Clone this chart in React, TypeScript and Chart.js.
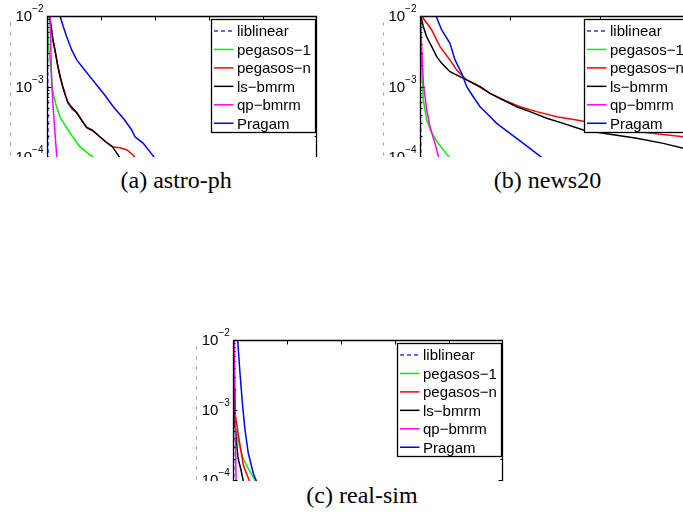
import React, { useEffect, useRef } from "react";
import { Chart, registerables } from "chart.js";

Chart.register(...registerables);

// ---------- shared series info ----------
const seriesNames = ["liblinear", "pegasos−1", "pegasos−n", "ls−bmrm", "qp−bmrm", "Pragam"];
const seriesColors = ["#3434ff", "#00f000", "#ff0000", "#000000", "#ff00ff", "#0000ff"];
const yTickExponents = [-2, -3, -4];

// ---------- (a) astro-ph ----------
const aXTicks = [1, 2, 3, 4];
const aLiblinearX = [0.005, 0.015, 0.025];
const aLiblinearY = [1e-2, 1e-3, 1e-5];
const aPeg1X = [0.006, 0.024, 0.056, 0.111, 0.167, 0.241, 0.333, 0.426, 0.519, 0.611, 0.704, 0.796, 0.981, 1.2];
const aPeg1Y = [1e-2, 4.14e-3, 2.38e-3, 8.1e-4, 5.47e-4, 3.69e-4, 2.84e-4, 2.19e-4, 1.74e-4, 1.39e-4, 1.22e-4, 1.07e-4, 8.5e-5, 6.5e-5];
const aPegNX = [0.043, 0.074, 0.111, 0.157, 0.204, 0.25, 0.296, 0.352, 0.389, 0.463, 0.556, 0.648, 0.741, 0.852, 0.981, 1.111, 1.222, 1.352, 1.481, 1.593, 1.722];
const aPegNY = [1e-2, 7.45e-3, 4.57e-3, 3.08e-3, 1.89e-3, 1.32e-3, 9.84e-4, 7.1e-4, 5.83e-4, 4.8e-4, 4.21e-4, 3.24e-4, 2.58e-4, 2.34e-4, 1.92e-4, 1.58e-4, 1.39e-4, 1.35e-4, 1.26e-4, 1.07e-4, 7.7e-5];
const aLsX = [0.04, 0.07, 0.107, 0.15, 0.2, 0.245, 0.29, 0.345, 0.385, 0.455, 0.545, 0.64, 0.73, 0.84, 0.97, 1.1, 1.21, 1.315, 1.426];
const aLsY = [1e-2, 7.6e-3, 4.7e-3, 3.15e-3, 1.95e-3, 1.36e-3, 1.0e-3, 7.3e-4, 6.0e-4, 5.1e-4, 4.3e-4, 3.35e-4, 2.65e-4, 2.4e-4, 1.97e-4, 1.62e-4, 1.4e-4, 1.07e-4, 7.7e-5];
const aQpX = [0.056, 0.087, 0.117, 0.18, 0.204];
const aQpY = [1e-2, 1.12e-3, 4.65e-4, 1.03e-4, 5.6e-5];
const aPragamX = [0.185, 0.241, 0.302, 0.365, 0.457, 0.55, 0.672, 0.796, 0.92, 1.043, 1.228, 1.413, 1.569, 1.63, 1.783, 1.969, 2.185];
const aPragamY = [2.34e-2, 1e-2, 7.05e-3, 5.08e-3, 3.3e-3, 2.38e-3, 1.81e-3, 1.38e-3, 1.05e-3, 8.0e-4, 5.16e-4, 3.54e-4, 2.42e-4, 1.94e-4, 1.56e-4, 1.03e-4, 5.56e-5];

// ---------- (b) news20 ----------
const bXTicks = [1, 2];
const bLiblinearX = [0.002, 0.006, 0.01];
const bLiblinearY = [1e-2, 1e-3, 1e-5];
const bPeg1X = [0.003, 0.019, 0.037, 0.074, 0.13, 0.203, 0.314, 0.444];
const bPeg1Y = [1e-2, 1.91e-3, 6.44e-4, 3.35e-4, 2.17e-4, 1.56e-4, 1.03e-4, 6.5e-5];
const bPegNX = [0.019, 0.13, 0.222, 0.333, 0.408, 0.519, 0.63, 0.778, 0.926, 1.111, 1.297, 1.519, 1.741, 2.037, 2.408, 2.926, 3.111];
const bPegNY = [1e-2, 6.33e-3, 3.67e-3, 2.38e-3, 1.71e-3, 1.24e-3, 1.05e-3, 8.0e-4, 6.44e-4, 5.16e-4, 4.4e-4, 3.73e-4, 3.35e-4, 2.84e-4, 2.29e-4, 1.94e-4, 1.86e-4];
const bLsX = [0.008, 0.037, 0.074, 0.13, 0.186, 0.241, 0.333, 0.444, 0.556, 0.667, 0.778, 0.926, 1.074, 1.222, 1.408, 1.592, 1.814, 2.037, 2.408, 2.703, 2.926, 3.111];
const bLsY = [1e-2, 7.05e-3, 5.08e-3, 3.67e-3, 2.65e-3, 2.13e-3, 1.62e-3, 1.38e-3, 1.17e-3, 9.93e-4, 8.0e-4, 6.44e-4, 5.16e-4, 4.4e-4, 3.54e-4, 3.0e-4, 2.42e-4, 2.17e-4, 1.84e-4, 1.56e-4, 1.33e-4, 1.26e-4];
const bQpX = [0.003, 0.037, 0.074, 0.111, 0.167, 0.203, 0.233];
const bQpY = [1e-2, 1.11e-3, 4.65e-4, 2.69e-4, 1.56e-4, 1.03e-4, 6.98e-5];
const bPragamX = [0.133, 0.178, 0.241, 0.333, 0.389, 0.463, 0.519, 0.592, 0.667, 0.741, 0.852, 1.0, 1.148, 1.333, 1.467];
const bPragamY = [2.34e-2, 1e-2, 6.33e-3, 4.1e-3, 2.38e-3, 1.54e-3, 9.93e-4, 7.16e-4, 5.16e-4, 4.17e-4, 3.0e-4, 2.17e-4, 1.56e-4, 1.03e-4, 7.7e-5];

// ---------- (c) real-sim ----------
const cXTicks = [1, 2, 3, 4];
const cLiblinearX = [0.004, 0.006, 0.008];
const cLiblinearY = [1e-2, 1e-3, 1e-5];
const cPeg1X = [0.004, 0.031, 0.087, 0.18, 0.272, 0.402, 0.531];
const cPeg1Y = [1e-2, 6.1e-4, 3.73e-4, 2.06e-4, 1.48e-4, 1e-4, 6.7e-5];
const cPegNX = [0.009, 0.022, 0.031, 0.093, 0.185, 0.278, 0.346];
const cPegNY = [1e-2, 1.93e-3, 9.35e-4, 4.4e-4, 1.64e-4, 1.06e-4, 7.7e-5];
const cLsX = [0.006, 0.022, 0.031, 0.087, 0.143, 0.18, 0.217];
const cLsY = [1e-2, 1.39e-3, 6.1e-4, 2.06e-4, 1.39e-4, 1e-4, 7.2e-5];
const cQpX = [0.019, 0.05, 0.059];
const cQpY = [1e-2, 1e-4, 6e-5];
const cPragamX = [0.07, 0.081, 0.124, 0.174, 0.217, 0.278, 0.37, 0.433, 0.5];
const cPragamY = [1.5e-2, 1e-2, 3.34e-3, 1.11e-3, 5.18e-4, 2.41e-4, 1.25e-4, 9.46e-5, 7e-5];

const captions = ["(a) astro-ph", "(b) news20", "(c) real-sim"];

type Series = { xs: number[]; ys: number[] }[];

const zip = (xs: number[], ys: number[]) => xs.map((x, i) => ({ x, y: ys[i] }));

const panels = [
  {
    key: "a",
    box: { left: 0, top: 0, width: 345, height: 157 },
    canvas: { width: 345, height: 240 },
    padding: { left: 47, top: 16, right: 28, bottom: 12.5 },
    xMax: 5,
    xTicks: aXTicks,
    series: [
      { xs: aLiblinearX, ys: aLiblinearY },
      { xs: aPeg1X, ys: aPeg1Y },
      { xs: aPegNX, ys: aPegNY },
      { xs: aLsX, ys: aLsY },
      { xs: aQpX, ys: aQpY },
      { xs: aPragamX, ys: aPragamY },
    ] as Series,
  },
  {
    key: "b",
    box: { left: 375, top: 0, width: 308, height: 157 },
    canvas: { width: 340, height: 240 },
    padding: { left: 45, top: 16, right: 25, bottom: 12.5 },
    xMax: 3,
    xTicks: bXTicks,
    series: [
      { xs: bLiblinearX, ys: bLiblinearY },
      { xs: bPeg1X, ys: bPeg1Y },
      { xs: bPegNX, ys: bPegNY },
      { xs: bLsX, ys: bLsY },
      { xs: bQpX, ys: bQpY },
      { xs: bPragamX, ys: bPragamY },
    ] as Series,
  },
  {
    key: "c",
    box: { left: 190, top: 325, width: 330, height: 156 },
    canvas: { width: 330, height: 240 },
    padding: { left: 43.3, top: 15, right: 16.7, bottom: 15 },
    xMax: 5,
    xTicks: cXTicks,
    series: [
      { xs: cLiblinearX, ys: cLiblinearY },
      { xs: cPeg1X, ys: cPeg1Y },
      { xs: cPegNX, ys: cPegNY },
      { xs: cLsX, ys: cLsY },
      { xs: cQpX, ys: cQpY },
      { xs: cPragamX, ys: cPragamY },
    ] as Series,
  },
];

const SANS = "'Liberation Sans', Arial, Helvetica, sans-serif";

function makeFramePlugin(xTicks: number[]) {
  return {
    id: "matlabFrame",
    afterDatasetsDraw(chart: any) {
      const { ctx, chartArea: ca, scales } = chart;
      const xs = scales.x;
      const ys = scales.y;
      ctx.save();
      const L = Math.round(ca.left) + 0.5;
      const R = Math.round(ca.right) - 0.5;
      const T = Math.round(ca.top) + 0.5;
      const B = ca.bottom;

      // faint dashed remnant of the y label
      ctx.strokeStyle = "#9a9a9a";
      ctx.lineWidth = 1;
      ctx.setLineDash([3, 7]);
      ctx.beginPath();
      ctx.moveTo(Math.round(ca.left - 37) + 0.5, T + 6);
      ctx.lineTo(Math.round(ca.left - 37) + 0.5, T + 140);
      ctx.stroke();
      ctx.setLineDash([]);

      // box
      ctx.strokeStyle = "#000";
      ctx.lineWidth = 1.3;
      ctx.beginPath();
      ctx.moveTo(L, B);
      ctx.lineTo(L, T);
      ctx.lineTo(R, T);
      ctx.lineTo(R, B);
      ctx.stroke();

      // top x ticks
      ctx.lineWidth = 1;
      ctx.beginPath();
      for (const v of xTicks) {
        const px = Math.round(xs.getPixelForValue(v)) + 0.5;
        ctx.moveTo(px, T);
        ctx.lineTo(px, T + 4);
      }
      // y major / minor ticks
      for (let e = -5; e <= -2; e++) {
        for (let m = 1; m <= 9; m++) {
          const v = m * Math.pow(10, e);
          if (v > 1.0001e-2) continue;
          const py = Math.round(ys.getPixelForValue(v)) + 0.5;
          const len = m === 1 ? 4 : 2;
          ctx.moveTo(L, py);
          ctx.lineTo(L + len, py);
          ctx.moveTo(R, py);
          ctx.lineTo(R - len, py);
        }
      }
      ctx.stroke();

      // y tick labels 10^e
      ctx.fillStyle = "#000";
      ctx.textBaseline = "alphabetic";
      for (const e of yTickExponents) {
        const py = ys.getPixelForValue(Math.pow(10, e));
        const sup = "−" + String(-e);
        ctx.font = `10px ${SANS}`;
        const w2 = ctx.measureText(sup).width;
        const right = ca.left - 3.5;
        ctx.textAlign = "left";
        ctx.fillText(sup, right - w2, py - 3.8);
        ctx.font = `15px ${SANS}`;
        ctx.textAlign = "right";
        ctx.fillText("10", right - w2, py + 5.4);
      }

      // legend
      const lw = 104;
      const lh = 113;
      const lx = Math.round(ca.right - 106.3) + 0.5;
      const ly = Math.round(ca.top + 3.3) + 0.5;
      ctx.fillStyle = "#fff";
      ctx.fillRect(lx, ly, lw, lh);
      ctx.strokeStyle = "#000";
      ctx.lineWidth = 1.3;
      ctx.strokeRect(lx, ly, lw, lh);
      ctx.font = `15px ${SANS}`;
      ctx.textAlign = "left";
      seriesNames.forEach((name, i) => {
        const ry = ly + 11.5 + i * 18.45;
        ctx.strokeStyle = seriesColors[i];
        ctx.lineWidth = 1.5;
        ctx.setLineDash(i === 0 ? [4, 3] : []);
        ctx.beginPath();
        ctx.moveTo(lx + 2.5, ry);
        ctx.lineTo(lx + 22, ry);
        ctx.stroke();
        ctx.setLineDash([]);
        ctx.fillStyle = "#000";
        ctx.fillText(name, lx + 25.5, ry + 5.3);
      });
      ctx.restore();
    },
  };
}

function Panel(props: (typeof panels)[number]) {
  const ref = useRef<HTMLCanvasElement | null>(null);
  useEffect(() => {
    if (!ref.current) return;
    const datasets = props.series.map((s, i) => ({
      label: seriesNames[i],
      data: zip(s.xs, s.ys),
      borderColor: seriesColors[i],
      backgroundColor: seriesColors[i],
      borderWidth: 1.5,
      borderDash: i === 0 ? [4, 3] : [],
      pointRadius: 0,
      tension: 0,
      fill: false,
      order: 6 - i,
    }));
    const chart = new Chart(ref.current, {
      type: "line",
      data: { datasets },
      options: {
        animation: false,
        responsive: false,
        maintainAspectRatio: false,
        layout: { padding: props.padding },
        parsing: false as any,
        scales: {
          x: { type: "linear", min: 0, max: props.xMax, display: false },
          y: { type: "logarithmic", min: 1e-5, max: 1e-2, display: false },
        },
        plugins: { legend: { display: false }, tooltip: { enabled: false } },
      },
      plugins: [makeFramePlugin(props.xTicks) as any],
    } as any);
    return () => chart.destroy();
  }, []);
  return (
    <div
      style={{
        position: "absolute",
        left: props.box.left,
        top: props.box.top,
        width: props.box.width,
        height: props.box.height,
        overflow: "hidden",
      }}
    >
      <canvas
        ref={ref}
        width={props.canvas.width}
        height={props.canvas.height}
        style={{
          position: "absolute",
          left: 0,
          top: 0,
          width: props.canvas.width,
          height: props.canvas.height,
        }}
      />
    </div>
  );
}

const captionPos = [
  { cx: 176.2, top: 167.6 },
  { cx: 547.5, top: 167.6 },
  { cx: 362, top: 483.2 },
];

export default function App() {
  return (
    <div
      style={{
        position: "absolute",
        left: 0,
        top: 0,
        width: 683,
        height: 517,
        background: "#fff",
        overflow: "hidden",
      }}
    >
      {panels.map((p) => (
        <Panel {...p} />
      ))}
      {captions.map((c, i) => (
        <div
          key={c}
          style={{
            position: "absolute",
            left: captionPos[i].cx - 100,
            top: captionPos[i].top,
            width: 200,
            textAlign: "center",
            fontFamily: "'Liberation Serif', 'Times New Roman', serif",
            fontSize: 24,
            lineHeight: "24px",
            color: "#000",
            whiteSpace: "nowrap",
          }}
        >
          {c}
        </div>
      ))}
    </div>
  );
}
